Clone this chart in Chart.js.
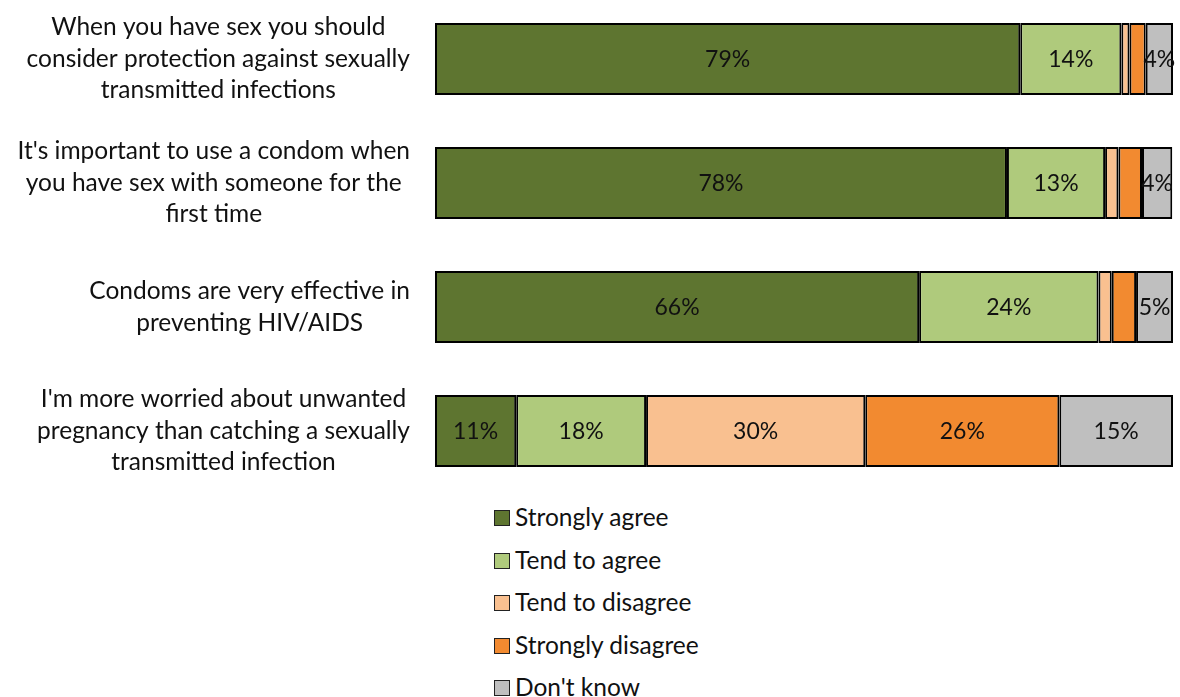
<!DOCTYPE html>
<html lang="en">
<head>
  <meta charset="utf-8">
  <title>Attitudes to condoms</title>
  <script type="text/javascript" src="https://cdn.jsdelivr.net/npm/chart.js"></script>
  <style type="text/css">
    body { margin:0; background:#fff; width:1180px; height:697px; overflow:hidden; position:relative; font-family:Lato, "Open Sans", sans-serif; }
    #wrap { position:absolute; left:0; top:-3px; width:1180px; height:496px; }
    #legend { position:absolute; left:494px; top:502px; color:#111; font-size:24.5px; }
    #legend div { height:42.5px; line-height:30px; display:flex; align-items:flex-start; }
    #legend span.box { display:inline-block; width:16px; height:16px; border:1.5px solid #222; margin:8px 5px 0 0; box-sizing:border-box; }
  </style>
</head>
<body>

  <div id="wrap"><canvas id="chart"></canvas></div>
  <div id="legend"></div>

  <script type="text/javascript">
    const questions = [
      ["When you have sex you should", "consider protection against sexually", "transmitted infections"],
      ["It's important to use a condom when", "you have sex with someone for the", "first time"],
      ["Condoms are very effective in", "preventing HIV/AIDS"],
      ["I'm more worried about unwanted", "pregnancy than catching a sexually", "transmitted infection"]
    ];
    const seriesNames = ["Strongly agree", "Tend to agree", "Tend to disagree", "Strongly disagree", "Don't know"];
    const stronglyAgree = [79.3, 77.5, 65.6, 11.0];
    const tendToAgree = [13.7, 13.3, 24.3, 17.6];
    const tendToDisagree = [1.1, 1.8, 1.8, 29.7];
    const stronglyDisagree = [2.2, 3.2, 3.3, 26.3];
    const dontKnow = [3.7, 4.1, 5.0, 15.4];
    const colours = ["#5E7530", "#AFCA7C", "#F9C090", "#F28A30", "#BFBFBF"];

    const FONT = "Lato, 'Open Sans', sans-serif";

    // value labels inside the segments
    const segmentLabels = {
      id: 'segmentLabels',
      afterDatasetsDraw(chart) {
        const ctx = chart.ctx;
        ctx.save();
        ctx.font = "23px " + FONT;
        ctx.fillStyle = "#111";
        ctx.textAlign = "center";
        ctx.textBaseline = "middle";
        chart.data.datasets.forEach((ds, i) => {
          chart.getDatasetMeta(i).data.forEach((bar, j) => {
            const v = ds.data[j];
            if (v < 3.5) return;
            ctx.fillText(Math.round(v) + "%", (bar.x + bar.base) / 2, bar.y + 1);
          });
        });
        ctx.restore();
      }
    };

    // category labels: block right aligned, lines centred in the block
    const categoryLabels = {
      id: 'categoryLabels',
      afterDraw(chart) {
        const ctx = chart.ctx;
        const y = chart.scales.y;
        ctx.save();
        ctx.font = "24.5px " + FONT;
        ctx.fillStyle = "#111";
        ctx.textAlign = "center";
        ctx.textBaseline = "middle";
        const right = 410, lh = 31.5;
        chart.data.labels.forEach((lines, i) => {
          const w = Math.max(...lines.map(l => ctx.measureText(l).width));
          const cx = right - w / 2;
          const cy = y.getPixelForValue(i);
          lines.forEach((l, k) => ctx.fillText(l, cx, cy + (k - (lines.length - 1) / 2) * lh));
        });
        ctx.restore();
      }
    };

    const seriesData = [stronglyAgree, tendToAgree, tendToDisagree, stronglyDisagree, dontKnow];
    const ctx = document.getElementById('chart');
    new Chart(ctx, {
      type: 'bar',
      data: {
        labels: questions,
        datasets: seriesNames.map((name, i) => ({
          label: name,
          data: seriesData[i],
          backgroundColor: colours[i],
          borderColor: "#000",
          borderWidth: 2,
          borderSkipped: false,
          barPercentage: 0.58,
          categoryPercentage: 1
        }))
      },
      options: {
        indexAxis: 'y',
        responsive: true,
        maintainAspectRatio: false,
        animation: false,
        layout: { padding: { left: 435, right: 7, top: 0, bottom: 0 } },
        scales: {
          x: { stacked: true, min: 0, max: 100, display: false },
          y: { stacked: true, display: false }
        },
        plugins: { legend: { display: false }, tooltip: { enabled: false } }
      },
      plugins: [segmentLabels, categoryLabels]
    });

    const legend = document.getElementById('legend');
    seriesNames.forEach((name, i) => {
      const row = document.createElement('div');
      row.innerHTML = '<span class="box" style="background:' + colours[i] + '"></span>' + name;
      legend.appendChild(row);
    });
  </script>

</body>
</html>
